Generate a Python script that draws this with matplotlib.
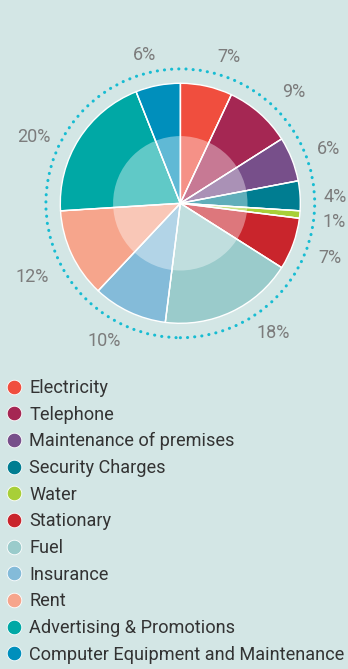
import matplotlib
matplotlib.use("Agg")
import matplotlib.pyplot as plt
from matplotlib.patches import Circle
from matplotlib.lines import Line2D
import numpy as np

categories = ["Electricity", "Telephone", "Maintenance of premises", "Security Charges",
              "Water", "Stationary", "Fuel", "Insurance", "Rent",
              "Advertising & Promotions", "Computer Equipment and Maintenance"]
values = [7, 9, 6, 4, 1, 7, 18, 10, 12, 20, 6]
colors = ["#F04E3E", "#A52753", "#774F8A", "#007D91", "#A8CF38", "#C9252C",
          "#9ACBCB", "#84BBD9", "#F6A58C", "#00A8A5", "#008FBC"]
pct_labels = [f"{v}%" for v in values]

# label layout: angular nudge (degrees, clockwise) and radius (in pie radii)
label_nudge = [5.7, 4.1, 1.4, 1.3, 1.4, 0.4, -10.4, 3.8, -1.2, -7.9, -2.6]
label_radius = [1.28, 1.32, 1.32, 1.29, 1.29, 1.33, 1.33, 1.31, 1.38, 1.34, 1.27]

BG = "#D3E6E5"
W, H = 348, 669
fig = plt.figure(figsize=(W / 100, H / 100), dpi=100, facecolor=BG)

R_PX = 120
half = 1.45
side = 2 * half * R_PX
cx, cy = 180.3, 203.3
ax = fig.add_axes([(cx - side / 2) / W, (H - cy - side / 2) / H, side / W, side / H])
ax.set_facecolor(BG)
ax.axis("off")

wedges, _ = ax.pie(values, colors=colors, startangle=90, counterclock=False, radius=1.0,
                   wedgeprops=dict(edgecolor="white", linewidth=1.0))
ax.set_xlim(-half, half)
ax.set_ylim(-half, half)
ax.set_aspect("equal")

ax.add_patch(Circle((0, 0), 0.56, facecolor="white", alpha=0.38, edgecolor="none", zorder=5))
for w in wedges:
    theta = np.deg2rad(w.theta1)
    ax.plot([0, np.cos(theta)], [0, np.sin(theta)], color="white", lw=1.0, zorder=6)

ax.add_patch(Circle((0, 0), 1.12, facecolor="none", edgecolor="#17BCD2", linewidth=2.2,
                    linestyle=(0, (0.05, 2.3)), capstyle="round", zorder=4))

for w, lab, dn, r in zip(wedges, pct_labels, label_nudge, label_radius):
    mid = np.deg2rad((w.theta1 + w.theta2) / 2 - dn)
    ax.text(r * np.cos(mid), r * np.sin(mid), lab, ha="center", va="center",
            fontsize=13, color="#7C7C7C", family="Roboto", clip_on=False)

handles = [Line2D([0], [0], marker="o", linestyle="none", markersize=10.5,
                  markerfacecolor=c, markeredgecolor="white", markeredgewidth=0.6)
           for c in colors]
leg = fig.legend(handles, categories, loc="upper left",
                 bbox_to_anchor=(0 / W, 1 - 379 / H), frameon=False,
                 prop=dict(family="Roboto", size=13.1),
                 labelcolor="#333333", handletextpad=0.1, labelspacing=0.475,
                 borderaxespad=0, handlelength=1.5, borderpad=0)

fig.savefig("out.png", dpi=100, facecolor=BG)
